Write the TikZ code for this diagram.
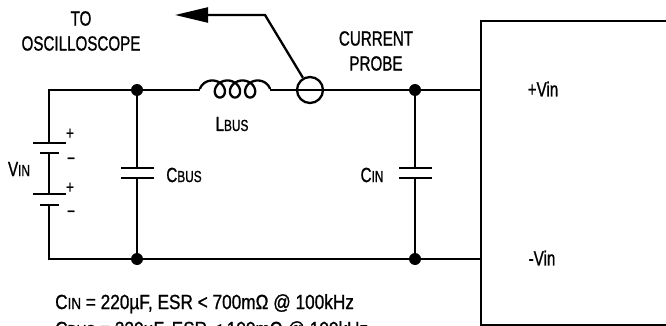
\documentclass[tikz,border=0pt]{standalone}
\usepackage{fontspec}
\setmainfont[FakeStretch=0.74, FakeBold=1]{Liberation Sans}
\newfontfamily\notefont[FakeStretch=0.84, FakeBold=1]{Liberation Sans}
\usepackage{tikz}
\usetikzlibrary{positioning,arrows.meta}
\newcommand{\subFmt}[2]{#1{\fontsize{16}{16}\selectfont #2}}
\newcommand{\vIn}{\subFmt{V}{IN}}
\newcommand{\lBus}{\subFmt{L}{BUS}}
\newcommand{\cBus}{\subFmt{C}{BUS}}
\newcommand{\cIn}{\subFmt{C}{IN}}

\begin{document}
\begin{tikzpicture}[x=1pt, y=-1pt,
			wire/.style={line width=2.3pt},
			plate/.style={line width=2.3pt},
			dot/.style={circle, fill=black, inner sep=0pt, minimum size=12pt},
			probering/.style={circle, draw, line width=2.3pt, inner sep=0pt, minimum size=26pt},
			label/.style={font=\fontsize{20.5}{25}\selectfont, inner sep=0pt, align=center},
			sign/.style={font=\fontsize{18}{18}\selectfont, inner sep=0pt},
		]
		\useasboundingbox (0,0) rectangle (666,326);

		% junctions and corners
		\coordinate (tl) at (49,90);
		\coordinate (bl) at (49,259);
		\node[dot] (cbustop) at (137,90)  {};
		\node[dot] (cbusbot) at (137,259) {};
		\node[dot] (cintop)  at (415,90)  {};
		\node[dot] (cinbot)  at (415,259) {};
		\coordinate (lbusl) at (200,90);
		\coordinate (lbusr) at (270,90);
		\node[probering] (probe) at (310,90) {};
		\coordinate (bend)  at (265,15);
		\coordinate (scope) at (175,15);
		\node[draw, line width=2.3pt, inner sep=0pt, minimum width=220pt, minimum height=304pt, anchor=north west] (conv) at (480,20) {};

		% battery
		\coordinate (bat1p) at (49,143);
		\coordinate (bat1n) at (49,153);
		\coordinate (bat2p) at (49,194);
		\coordinate (bat2n) at (49,205);
		\draw[plate] ([xshift=-16pt]bat1p) -- ([xshift=17pt]bat1p);
		\draw[plate] ([xshift=-9pt]bat1n)  -- ([xshift=10pt]bat1n);
		\draw[plate] ([xshift=-16pt]bat2p) -- ([xshift=17pt]bat2p);
		\draw[plate] ([xshift=-9pt]bat2n)  -- ([xshift=10pt]bat2n);

		% capacitors
		\coordinate (cbusa) at (137,168);
		\coordinate (cbusb) at (137,178);
		\coordinate (cina)  at (415,168);
		\coordinate (cinb)  at (415,178);
		\draw[plate] ([xshift=-16pt]cbusa) -- ([xshift=17pt]cbusa);
		\draw[plate] ([xshift=-16pt]cbusb) -- ([xshift=17pt]cbusb);
		\draw[plate] ([xshift=-16pt]cina)  -- ([xshift=17pt]cina);
		\draw[plate] ([xshift=-16pt]cinb)  -- ([xshift=17pt]cinb);

		% wires
		\draw[wire] (bat1p) -- (tl) -- (cbustop) -- (lbusl);
		\draw[wire] (lbusr) -- (cintop) -- (conv.west |- cintop);
		\draw[wire] (bat1n) -- (bat2p);
		\draw[wire] (bat2n) -- (bl) -- (cbusbot) -- (cinbot) -- (conv.west |- cinbot);
		\draw[wire] (cbustop) -- (cbusa);
		\draw[wire] (cbusb) -- (cbusbot);
		\draw[wire] (cintop) -- (cina);
		\draw[wire] (cinb) -- (cinbot);

		% inductor
		\draw[wire] plot[domain=0:1260, samples=240, variable=\t, smooth]
			({208.5 + 2.41*\t*pi/180 - 8.5*cos(\t)}, {89 - 8.5*sin(\t)});

		% probe lead
		\draw[wire, -{Triangle[length=33pt, width=15pt]}] (probe.120) -- (bend) -- (scope);

		% labels
		\node[label] (scopelbl) at (81,31) {TO\\OSCILLOSCOPE};
		\node[label] (probelbl) at (376,51) {CURRENT\\PROBE};
		\node[label] (lbuslbl) at (232,124) {\lBus};
		\node[label] (vinlbl) at (19,169) {\vIn};
		\node[label] (cbuslbl) at (184,175) {\cBus};
		\node[label] (cinlbl) at (372,175) {\cIn};
		\node[label] (pvin) at (543,89) {+Vin};
		\node[label] (nvin) at (542,258) {-Vin};
		\node[sign] at (70,134) {+};
		\node[sign] at (71,161) {−};
		\node[sign] at (70,188) {+};
		\node[sign] at (71,214) {−};
		\node[label, font=\notefont\fontsize{20.5}{27}\selectfont, align=left, anchor=north west] (notes) at (55,294)
			{\cIn{} = 220µF, ESR < 700mΩ @ 100kHz\\\cBus{} = 330µF, ESR < 100mΩ @ 100kHz};

		\end{tikzpicture}
\end{document}
